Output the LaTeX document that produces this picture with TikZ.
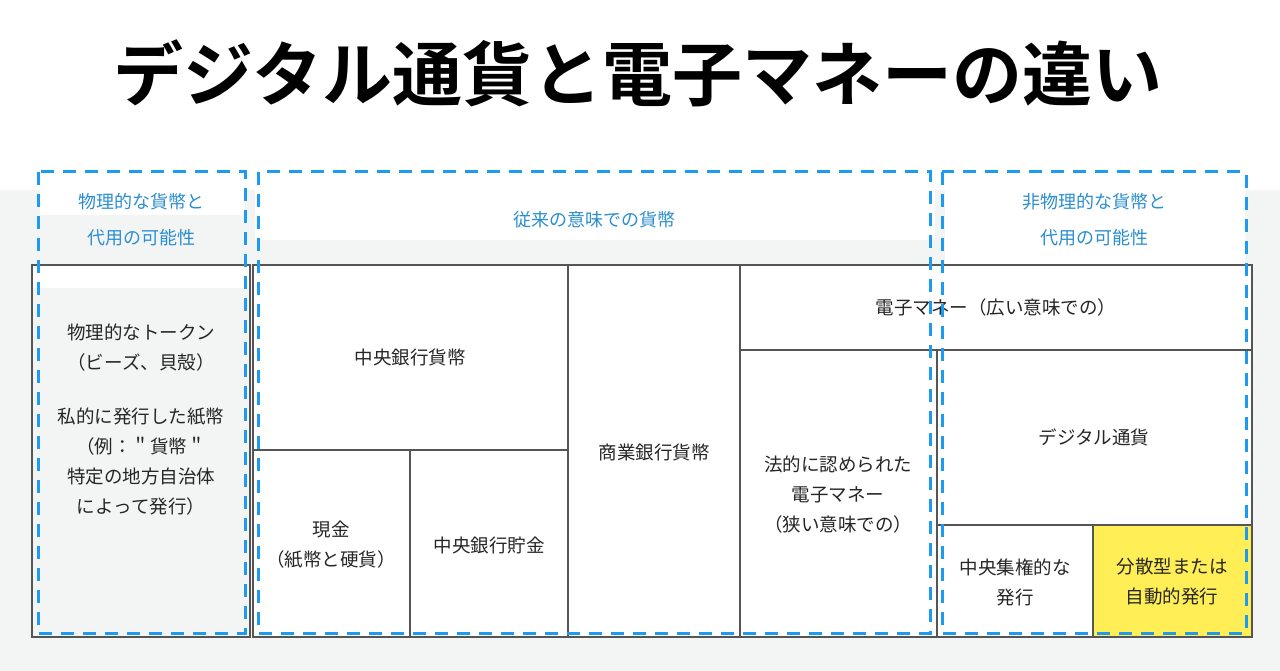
\documentclass[tikz,border=0pt]{standalone}
\usepackage{fontspec}
\setmainfont{Noto Sans CJK JP}
\newfontfamily\jpb{Noto Sans CJK JP}[BoldFont={* Bold}]
\definecolor{bgg}{HTML}{F3F5F4}
\definecolor{dblue}{HTML}{1E9BF0}
\definecolor{tblue}{HTML}{2B8ED0}
\definecolor{ylw}{HTML}{FFEE55}
\definecolor{lin}{HTML}{555555}
\begin{document}
\begin{tikzpicture}[x=1pt,y=-1pt,
 cell/.style={draw=lin,line width=1.2pt},
 dbox/.style={draw=dblue,line width=3pt,dash pattern=on 13pt off 9pt},
 body/.style={text=black!85,font=\fontsize{18.5}{30}\selectfont,align=center},
 hdr/.style={text=tblue,font=\fontsize{18}{36}\selectfont,align=center}]
\useasboundingbox (0,0) rectangle (1280,671);
\fill[white] (0,0) rectangle (1280,671);
\fill[bgg] (0,190) rectangle (1280,671);
\fill[white] (255,170) rectangle (935,240);
\fill[white] (40,170) rectangle (245,215);
\fill[white] (945,170) rectangle (1245,288);
\node[font=\jpb\bfseries\fontsize{70}{78}\selectfont] (title) at (638,73) {デジタル通貨と電子マネーの違い};
% cells
\fill[white] (32,265) rectangle (250,288);
\fill[white] (253,265) rectangle (1252,637);
\fill[ylw] (1093,525) rectangle (1252,637);
\draw[cell] (32,265) rectangle (250,637);
\draw[cell] (253,265) rectangle (568,450);
\draw[cell] (253,450) rectangle (410,637);
\draw[cell] (410,450) rectangle (568,637);
\draw[cell] (568,265) rectangle (740,637);
\draw[cell] (740,265) rectangle (1252,350);
\draw[cell] (740,350) rectangle (937,637);
\draw[cell] (937,350) rectangle (1252,525);
\draw[cell] (937,525) rectangle (1093,637);
\draw[cell] (1093,525) rectangle (1252,637);
% texts
\node[body] (t1) at (141,420) {物理的なトークン\\（ビーズ、貝殻）\\[24pt]私的に発行した紙幣\\（例：＂貨幣＂\\特定の地方自治体\\によって発行）};
\node[body] (t2) at (410,357) {中央銀行貨幣};
\node[body] (t3) at (331,545) {現金\\（紙幣と硬貨）};
\node[body] (t4) at (489,545) {中央銀行貯金};
\node[body] (t5) at (654,452) {商業銀行貨幣};
\node[body] (t6) at (838,495) {法的に認められた\\電子マネー\\（狭い意味での）};
\node[body] (t7) at (996,307) {電子マネー（広い意味での）};
\node[body] (t8) at (1094,437) {デジタル通貨};
\node[body] (t9) at (1015,582) {中央集権的な\\発行};
\node[body] (t10) at (1172,582) {分散型または\\自動的発行};
\node[hdr] (h1) at (141,220) {物理的な貨幣と\\代用の可能性};
\node[hdr] (h2) at (594,220) {従来の意味での貨幣};
\node[hdr] (h3) at (1094,220) {非物理的な貨幣と\\代用の可能性};
% dashed boxes
\draw[dbox] (38,172) rectangle (245,633);
\draw[dbox] (258,172) rectangle (930,633);
\draw[dbox] (942,172) rectangle (1246,633);
\end{tikzpicture}
\end{document}
